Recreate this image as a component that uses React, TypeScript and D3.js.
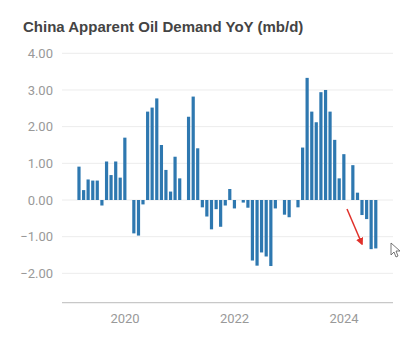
import React from "react";
import * as d3 from "d3";

const months: string[] = [
  "2019-02","2019-03","2019-04","2019-05","2019-06","2019-07","2019-08","2019-09","2019-10","2019-11","2019-12",
  "2020-02","2020-03","2020-04","2020-05","2020-06","2020-07","2020-08","2020-09","2020-10","2020-11","2020-12",
  "2021-02","2021-03","2021-04","2021-05","2021-06","2021-07","2021-08","2021-09","2021-10","2021-11","2021-12",
  "2022-02","2022-03","2022-04","2022-05","2022-06","2022-07","2022-08","2022-09","2022-11","2022-12",
  "2023-02","2023-03","2023-04","2023-05","2023-06","2023-07","2023-08","2023-09","2023-10","2023-11","2023-12",
  "2024-02","2024-03","2024-04","2024-05","2024-06","2024-07",
];
const values: number[] = [
  0.91, 0.27, 0.56, 0.53, 0.53, -0.15, 1.05, 0.68, 1.05, 0.61, 1.70,
  -0.91, -0.97, -0.12, 2.41, 2.52, 2.77, 1.50, 0.82, 0.23, 1.18, 0.59,
  2.27, 2.82, 1.41, -0.20, -0.45, -0.80, -0.25, -0.73, -0.15, 0.30, -0.23,
  -0.07, -0.21, -1.65, -1.79, -1.43, -1.54, -1.80, -0.23, -0.40, -0.47,
  -0.20, 1.43, 3.33, 2.41, 2.12, 2.94, 3.00, 2.41, 1.64, 0.59, 1.25,
  0.95, 0.20, -0.41, -0.52, -1.34, -1.32,
];
const yTicks: number[] = [4, 3, 2, 1, 0, -1, -2];
const xTickYears: number[] = [2020, 2022, 2024];
const title = "China Apparent Oil Demand YoY (mb/d)";

const W = 420, H = 356;
const left = 62, right = 393;

export default function App() {
  const y = d3.scaleLinear().domain([-2.8, 4]).range([302.7, 53.3]);
  const x = d3
    .scaleTime()
    .domain([new Date(2020, 0, 1), new Date(2024, 0, 1)])
    .range([125, 344]);
  const endOfMonth = (s: string) => {
    const [yy, mm] = s.split("-").map(Number);
    return new Date(yy, mm, 0);
  };
  const bw = 3.2;
  const fmt = d3.format(".2f");
  const axisFont = "Roboto, 'Open Sans', sans-serif";
  return (
    <svg width={W} height={H} style={{ position: "absolute", left: 0, top: 0, background: "#fff" }}>
      <defs>
        <marker id="ah" viewBox="0 0 10 10" refX="8" refY="5" markerWidth="5" markerHeight="5" orient="auto">
          <path d="M0,0 L10,5 L0,10 z" fill="#e0302a" />
        </marker>
      </defs>
      <rect width={W} height={H} fill="#fff" />
      <text x={23} y={32} fontFamily="'Liberation Sans', Arial, sans-serif" fontWeight="bold" fontSize={15} fill="#444">
        {title}
      </text>
      {yTicks.map((t) => (
        <g key={t}>
          <line x1={left} x2={right} y1={y(t)} y2={y(t)} stroke="#ececec" strokeWidth={1} />
          <text x={53} y={y(t)} dy="0.35em" textAnchor="end" fontFamily={axisFont} fontSize={13} fill="#999">
            {fmt(t)}
          </text>
        </g>
      ))}
      {months.map((m, i) => {
        const v = values[i];
        const cx = x(endOfMonth(m));
        const y0 = y(0), y1 = y(v);
        return (
          <rect key={m} x={cx - bw / 2} width={bw} y={Math.min(y0, y1)} height={Math.abs(y1 - y0)} fill="#2e78b0" />
        );
      })}
      <line x1={left} x2={right} y1={y(-2.8)} y2={y(-2.8)} stroke="#c8c8c8" strokeWidth={1.2} />
      {xTickYears.map((yr) => (
        <text key={yr} x={x(new Date(yr, 0, 1))} y={323} textAnchor="middle" fontFamily={axisFont} fontSize={13} fill="#999">
          {yr}
        </text>
      ))}
      <line x1={347} y1={209} x2={362} y2={244} stroke="#e0302a" strokeWidth={1.5} markerEnd="url(#ah)" />
      <path d="M391,243 L391,255 L394,252 L396,257 L398,256 L396,251 L400,251 Z" fill="#fff" stroke="#555" strokeWidth={0.8} />
    </svg>
  );
}
